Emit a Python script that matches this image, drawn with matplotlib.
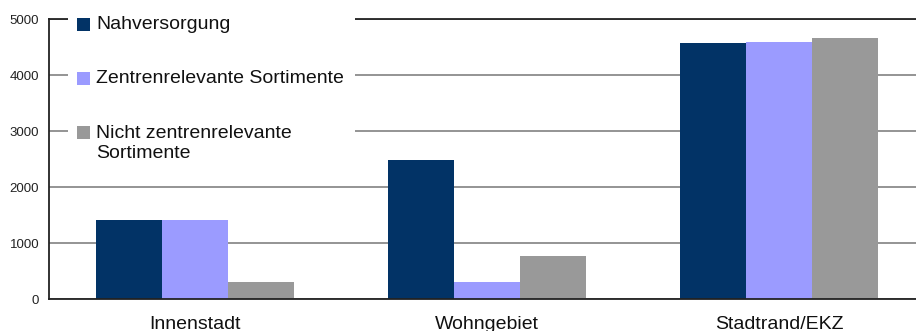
import matplotlib
matplotlib.use("Agg")
import matplotlib.pyplot as plt
from matplotlib.patches import Rectangle
import numpy as np

categories = ["Innenstadt", "Wohngebiet", "Stadtrand/EKZ"]
series_names = ["Nahversorgung", "Zentrenrelevante Sortimente", "Nicht zentrenrelevante\nSortimente"]
nahversorgung = [1410, 2480, 4570]
zentrenrelevant = [1410, 300, 4590]
nicht_zentrenrelevant = [300, 770, 4660]
yticks = [0, 1000, 2000, 3000, 4000, 5000]

colors = ["#023366", "#9b9bff", "#999999"]
values = [nahversorgung, zentrenrelevant, nicht_zentrenrelevant]

W, H = 916, 331
plt.rcParams['font.family'] = ['Liberation Sans', 'DejaVu Sans']
fig = plt.figure(figsize=(W / 100, H / 100), dpi=100)

def fx(px):
    return px / W

def fy(py):
    return 1 - py / H

left, right, top, bottom = 49, 925, 19, 299
ax = fig.add_axes([fx(left), fy(bottom), fx(right - left), (bottom - top) / H])

x = np.arange(len(categories))
bw = 0.226
offsets = [-bw, 0, bw]
for vals, c, off in zip(values, colors, offsets):
    ax.bar(x + off, vals, width=bw, color=c, zorder=2, linewidth=0)

ax.set_xlim(-0.5, 2.5)
ax.set_ylim(0, 5000)
ax.set_yticks(yticks)
ax.set_yticklabels([str(t) for t in yticks], fontsize=9.5, color="#222222")
ax.set_xticks(x)
ax.set_xticklabels(categories, fontsize=14, color="#111111")
ax.tick_params(axis='both', length=0)
ax.tick_params(axis='y', pad=7)
ax.tick_params(axis='x', pad=12)
ax.grid(axis='y', color="#777777", linewidth=1.1, zorder=0.5)
ax.set_axisbelow(True)
for s in ["left", "bottom", "top"]:
    ax.spines[s].set_color("#222222")
    ax.spines[s].set_linewidth(1.3)
ax.spines["right"].set_visible(False)

# legend (drawn in the upper left inside the plot, over the grid)
box = Rectangle((fx(68), fy(175)), fx(355 - 68), (175 - 10) / H, transform=fig.transFigure,
                facecolor="white", edgecolor="none", zorder=2.6, clip_on=False)
ax.add_artist(box)
first_baselines = [29, 83, 137]
line_step = 21
for name, c, b in zip(series_names, colors, first_baselines):
    sq = Rectangle((fx(77), fy(b + 2)), fx(13), 13 / H, transform=fig.transFigure,
                   facecolor=c, edgecolor="none", zorder=3, clip_on=False)
    ax.add_artist(sq)
    last_baseline = b + line_step * name.count("\n")
    ax.text(fx(96), fy(last_baseline), name, fontsize=14, va="baseline", ha="left",
            color="#111111", linespacing=1.25, transform=fig.transFigure, zorder=4)

fig.savefig("out.png", dpi=100)
